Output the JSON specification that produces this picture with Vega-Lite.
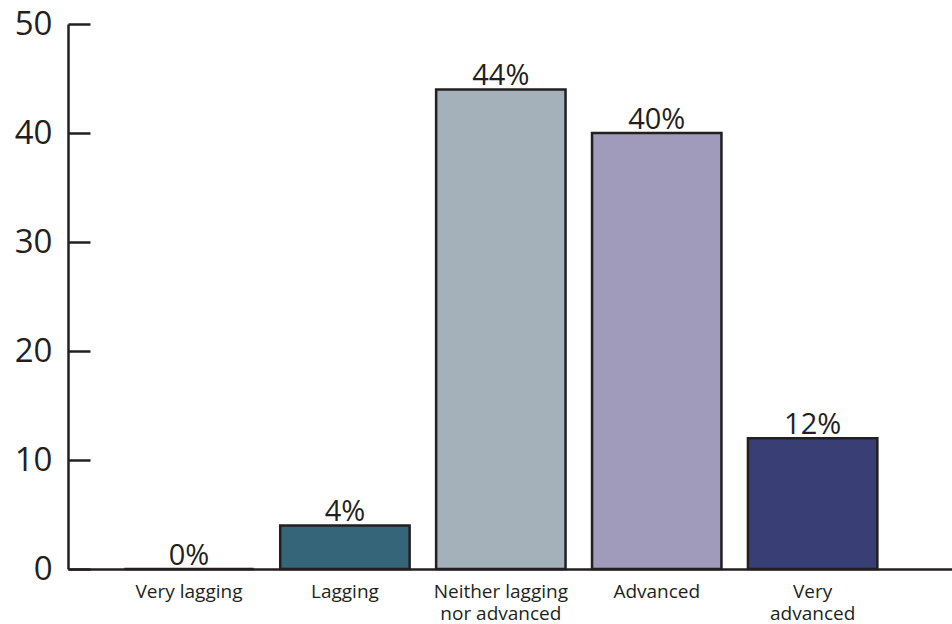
{
  "$schema": "https://vega.github.io/schema/vega-lite/v6.json",
  "width": 884,
  "height": 545,
  "autosize": "none",
  "padding": {"left": 68, "top": 24, "right": 0, "bottom": 55},
  "background": "white",
  "config": {
    "view": {"stroke": null},
    "font": "Open Sans",
    "axis": {
      "domainColor": "#231f20",
      "domainWidth": 2.5,
      "tickColor": "#231f20",
      "tickWidth": 2.5,
      "labelColor": "#231f20",
      "grid": false,
      "title": null
    }
  },
  "data": {
    "values": [
      {"category": "Very lagging", "value": 0, "label": "0%"},
      {"category": "Lagging", "value": 4, "label": "4%"},
      {"category": "Neither lagging|nor advanced", "value": 44, "label": "44%"},
      {"category": "Advanced", "value": 40, "label": "40%"},
      {"category": "Very|advanced", "value": 12, "label": "12%"}
    ]
  },
  "encoding": {
    "x": {
      "field": "category",
      "type": "nominal",
      "sort": null,
      "scale": {"paddingInner": 0.17, "paddingOuter": 0.42, "align": 0.43},
      "axis": {
        "ticks": false,
        "labelAngle": 0,
        "labelFontSize": 19,
        "labelPadding": 13,
        "labelLineHeight": 22,
        "labelExpr": "split(datum.label, '|')"
      }
    },
    "y": {
      "field": "value",
      "type": "quantitative",
      "scale": {"domain": [0, 50]},
      "axis": {
        "values": [0, 10, 20, 30, 40, 50],
        "tickSize": -22,
        "labelFontSize": 33,
        "labelPadding": 38
      }
    }
  },
  "layer": [
    {
      "mark": {"type": "bar", "stroke": "#231f20", "strokeWidth": 2.5},
      "encoding": {
        "color": {
          "field": "category",
          "type": "nominal",
          "scale": {
            "domain": ["Very lagging", "Lagging", "Neither lagging|nor advanced", "Advanced", "Very|advanced"],
            "range": ["#ffffff", "#356578", "#a5b1ba", "#a09bba", "#393e75"]
          },
          "legend": null
        }
      }
    },
    {
      "mark": {"type": "text", "baseline": "alphabetic", "dy": -4, "fontSize": 29, "color": "#231f20"},
      "encoding": {"text": {"field": "label"}}
    }
  ]
}
